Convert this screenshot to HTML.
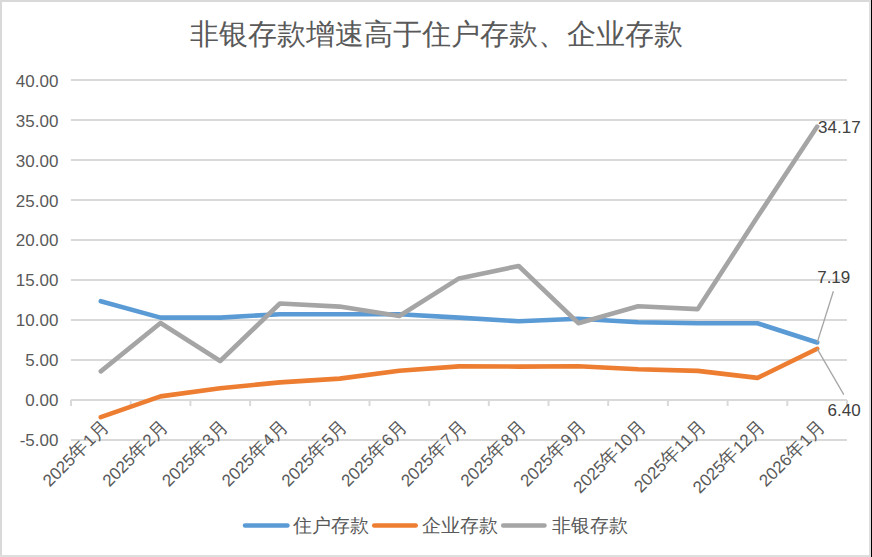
<!DOCTYPE html>
<html><head><meta charset="utf-8"><style>
html,body{margin:0;padding:0;background:#fff;}
body{width:872px;height:557px;overflow:hidden;position:relative;}
svg{position:absolute;left:0;top:0;display:block;}
text{font-family:"Liberation Sans", sans-serif;}
.yl{font-size:17px;fill:#595959;}
.dl{font-size:17px;fill:#404040;}
.xl{font-size:18.6px;fill:#595959;}
.xd{font-size:17px;}
.lg{font-size:18.6px;fill:#595959;}
.tt{font-size:29px;fill:#595959;}
</style></head><body>
<svg width="872" height="557" viewBox="0 0 872 557">
<rect x="0" y="0" width="872" height="557" fill="#fff"/>
<rect x="0" y="0" width="872" height="2" fill="#d9d9d9"/>
<rect x="0" y="0" width="2" height="557" fill="#d9d9d9"/>
<rect x="0" y="555" width="871" height="2" fill="#dedede"/>
<rect x="869" y="0" width="2" height="557" fill="#dedede"/>
<rect x="871" y="0" width="1" height="557" fill="#000"/>
<rect x="71.0" y="439" width="776.0" height="2" fill="#d9d9d9"/>
<rect x="71.0" y="399" width="776.0" height="2" fill="#d9d9d9"/>
<rect x="71.0" y="359" width="776.0" height="2" fill="#d9d9d9"/>
<rect x="71.0" y="319" width="776.0" height="2" fill="#d9d9d9"/>
<rect x="71.0" y="279" width="776.0" height="2" fill="#d9d9d9"/>
<rect x="71.0" y="239" width="776.0" height="2" fill="#d9d9d9"/>
<rect x="71.0" y="199" width="776.0" height="2" fill="#d9d9d9"/>
<rect x="71.0" y="159" width="776.0" height="2" fill="#d9d9d9"/>
<rect x="71.0" y="119" width="776.0" height="2" fill="#d9d9d9"/>
<rect x="71.0" y="79" width="776.0" height="2" fill="#d9d9d9"/>
<rect x="70.0" y="400" width="2" height="6" fill="#d9d9d9"/>
<rect x="129.7" y="400" width="2" height="6" fill="#d9d9d9"/>
<rect x="189.4" y="400" width="2" height="6" fill="#d9d9d9"/>
<rect x="249.1" y="400" width="2" height="6" fill="#d9d9d9"/>
<rect x="308.8" y="400" width="2" height="6" fill="#d9d9d9"/>
<rect x="368.5" y="400" width="2" height="6" fill="#d9d9d9"/>
<rect x="428.2" y="400" width="2" height="6" fill="#d9d9d9"/>
<rect x="487.8" y="400" width="2" height="6" fill="#d9d9d9"/>
<rect x="547.5" y="400" width="2" height="6" fill="#d9d9d9"/>
<rect x="607.2" y="400" width="2" height="6" fill="#d9d9d9"/>
<rect x="666.9" y="400" width="2" height="6" fill="#d9d9d9"/>
<rect x="726.6" y="400" width="2" height="6" fill="#d9d9d9"/>
<rect x="786.3" y="400" width="2" height="6" fill="#d9d9d9"/>
<rect x="846.0" y="400" width="2" height="6" fill="#d9d9d9"/>
<text x="58.4" y="445.76" text-anchor="end" class="yl">-5.00</text>
<text x="58.4" y="405.90" text-anchor="end" class="yl">0.00</text>
<text x="58.4" y="366.04" text-anchor="end" class="yl">5.00</text>
<text x="58.4" y="326.18" text-anchor="end" class="yl">10.00</text>
<text x="58.4" y="286.32" text-anchor="end" class="yl">15.00</text>
<text x="58.4" y="246.46" text-anchor="end" class="yl">20.00</text>
<text x="58.4" y="206.60" text-anchor="end" class="yl">25.00</text>
<text x="58.4" y="166.74" text-anchor="end" class="yl">30.00</text>
<text x="58.4" y="126.88" text-anchor="end" class="yl">35.00</text>
<text x="58.4" y="87.02" text-anchor="end" class="yl">40.00</text>
<polyline points="100.8,301.2 160.5,317.6 220.2,317.6 279.9,314.2 339.6,314.2 399.3,314.2 459.0,317.6 518.7,321.3 578.4,318.8 638.1,322.2 697.8,323.3 757.5,323.3 817.2,342.5" fill="none" stroke="#5b9bd5" stroke-width="4.6" stroke-linejoin="round" stroke-linecap="round"/>
<polyline points="100.8,417.2 160.5,396.4 220.2,388.2 279.9,382.4 339.6,378.6 399.3,370.8 459.0,366.4 518.7,366.6 578.4,366.2 638.1,369.3 697.8,370.9 757.5,377.9 817.2,348.8" fill="none" stroke="#ed7d31" stroke-width="4.6" stroke-linejoin="round" stroke-linecap="round"/>
<polyline points="100.8,371.4 160.5,323.0 220.2,361.0 279.9,303.5 339.6,306.6 399.3,316.0 459.0,278.4 518.7,266.0 578.4,323.2 638.1,306.2 697.8,309.1 757.5,216.8 817.2,126.6" fill="none" stroke="#a5a5a5" stroke-width="4.6" stroke-linejoin="round" stroke-linecap="round"/>
<line x1="817.2" y1="342.5" x2="833.4" y2="291.2" stroke="#a6a6a6" stroke-width="1.3"/>
<line x1="817.2" y1="348.9" x2="843.8" y2="394.6" stroke="#a6a6a6" stroke-width="1.3"/>
<text x="818.1" y="132.9" class="dl">34.17</text>
<text x="817.2" y="283" class="dl">7.19</text>
<text x="827.6" y="415.5" class="dl">6.40</text>
<text transform="translate(110.0,427.3) rotate(-45)" text-anchor="end" class="xl" textLength="85.3" lengthAdjust="spacing"><tspan class="xd">2025</tspan>年<tspan class="xd">1</tspan>月</text>
<text transform="translate(169.7,427.3) rotate(-45)" text-anchor="end" class="xl" textLength="85.3" lengthAdjust="spacing"><tspan class="xd">2025</tspan>年<tspan class="xd">2</tspan>月</text>
<text transform="translate(229.4,427.3) rotate(-45)" text-anchor="end" class="xl" textLength="85.3" lengthAdjust="spacing"><tspan class="xd">2025</tspan>年<tspan class="xd">3</tspan>月</text>
<text transform="translate(289.1,427.3) rotate(-45)" text-anchor="end" class="xl" textLength="85.3" lengthAdjust="spacing"><tspan class="xd">2025</tspan>年<tspan class="xd">4</tspan>月</text>
<text transform="translate(348.8,427.3) rotate(-45)" text-anchor="end" class="xl" textLength="85.3" lengthAdjust="spacing"><tspan class="xd">2025</tspan>年<tspan class="xd">5</tspan>月</text>
<text transform="translate(408.5,427.3) rotate(-45)" text-anchor="end" class="xl" textLength="85.3" lengthAdjust="spacing"><tspan class="xd">2025</tspan>年<tspan class="xd">6</tspan>月</text>
<text transform="translate(468.2,427.3) rotate(-45)" text-anchor="end" class="xl" textLength="85.3" lengthAdjust="spacing"><tspan class="xd">2025</tspan>年<tspan class="xd">7</tspan>月</text>
<text transform="translate(527.9,427.3) rotate(-45)" text-anchor="end" class="xl" textLength="85.3" lengthAdjust="spacing"><tspan class="xd">2025</tspan>年<tspan class="xd">8</tspan>月</text>
<text transform="translate(587.6,427.3) rotate(-45)" text-anchor="end" class="xl" textLength="85.3" lengthAdjust="spacing"><tspan class="xd">2025</tspan>年<tspan class="xd">9</tspan>月</text>
<text transform="translate(647.3,427.3) rotate(-45)" text-anchor="end" class="xl" textLength="94.75" lengthAdjust="spacing"><tspan class="xd">2025</tspan>年<tspan class="xd">10</tspan>月</text>
<text transform="translate(707.0,427.3) rotate(-45)" text-anchor="end" class="xl" textLength="93.5" lengthAdjust="spacing"><tspan class="xd">2025</tspan>年<tspan class="xd">11</tspan>月</text>
<text transform="translate(766.7,427.3) rotate(-45)" text-anchor="end" class="xl" textLength="94.75" lengthAdjust="spacing"><tspan class="xd">2025</tspan>年<tspan class="xd">12</tspan>月</text>
<text transform="translate(826.4,427.3) rotate(-45)" text-anchor="end" class="xl" textLength="85.3" lengthAdjust="spacing"><tspan class="xd">2026</tspan>年<tspan class="xd">1</tspan>月</text>
<line x1="245.0" y1="525.6" x2="287.4" y2="525.6" stroke="#5b9bd5" stroke-width="4.5" stroke-linecap="round"/>
<text x="293.4" y="532" class="lg" textLength="76" lengthAdjust="spacing">住户存款</text>
<line x1="374.2" y1="525.6" x2="415.7" y2="525.6" stroke="#ed7d31" stroke-width="4.5" stroke-linecap="round"/>
<text x="421.7" y="532" class="lg" textLength="76" lengthAdjust="spacing">企业存款</text>
<line x1="503.2" y1="525.6" x2="544.5" y2="525.6" stroke="#a5a5a5" stroke-width="4.5" stroke-linecap="round"/>
<text x="551.6" y="532" class="lg" textLength="76" lengthAdjust="spacing">非银存款</text>
<text x="436" y="43.7" text-anchor="middle" class="tt" textLength="493" lengthAdjust="spacing">非银存款增速高于住户存款、企业存款</text>
</svg>
</body></html>
